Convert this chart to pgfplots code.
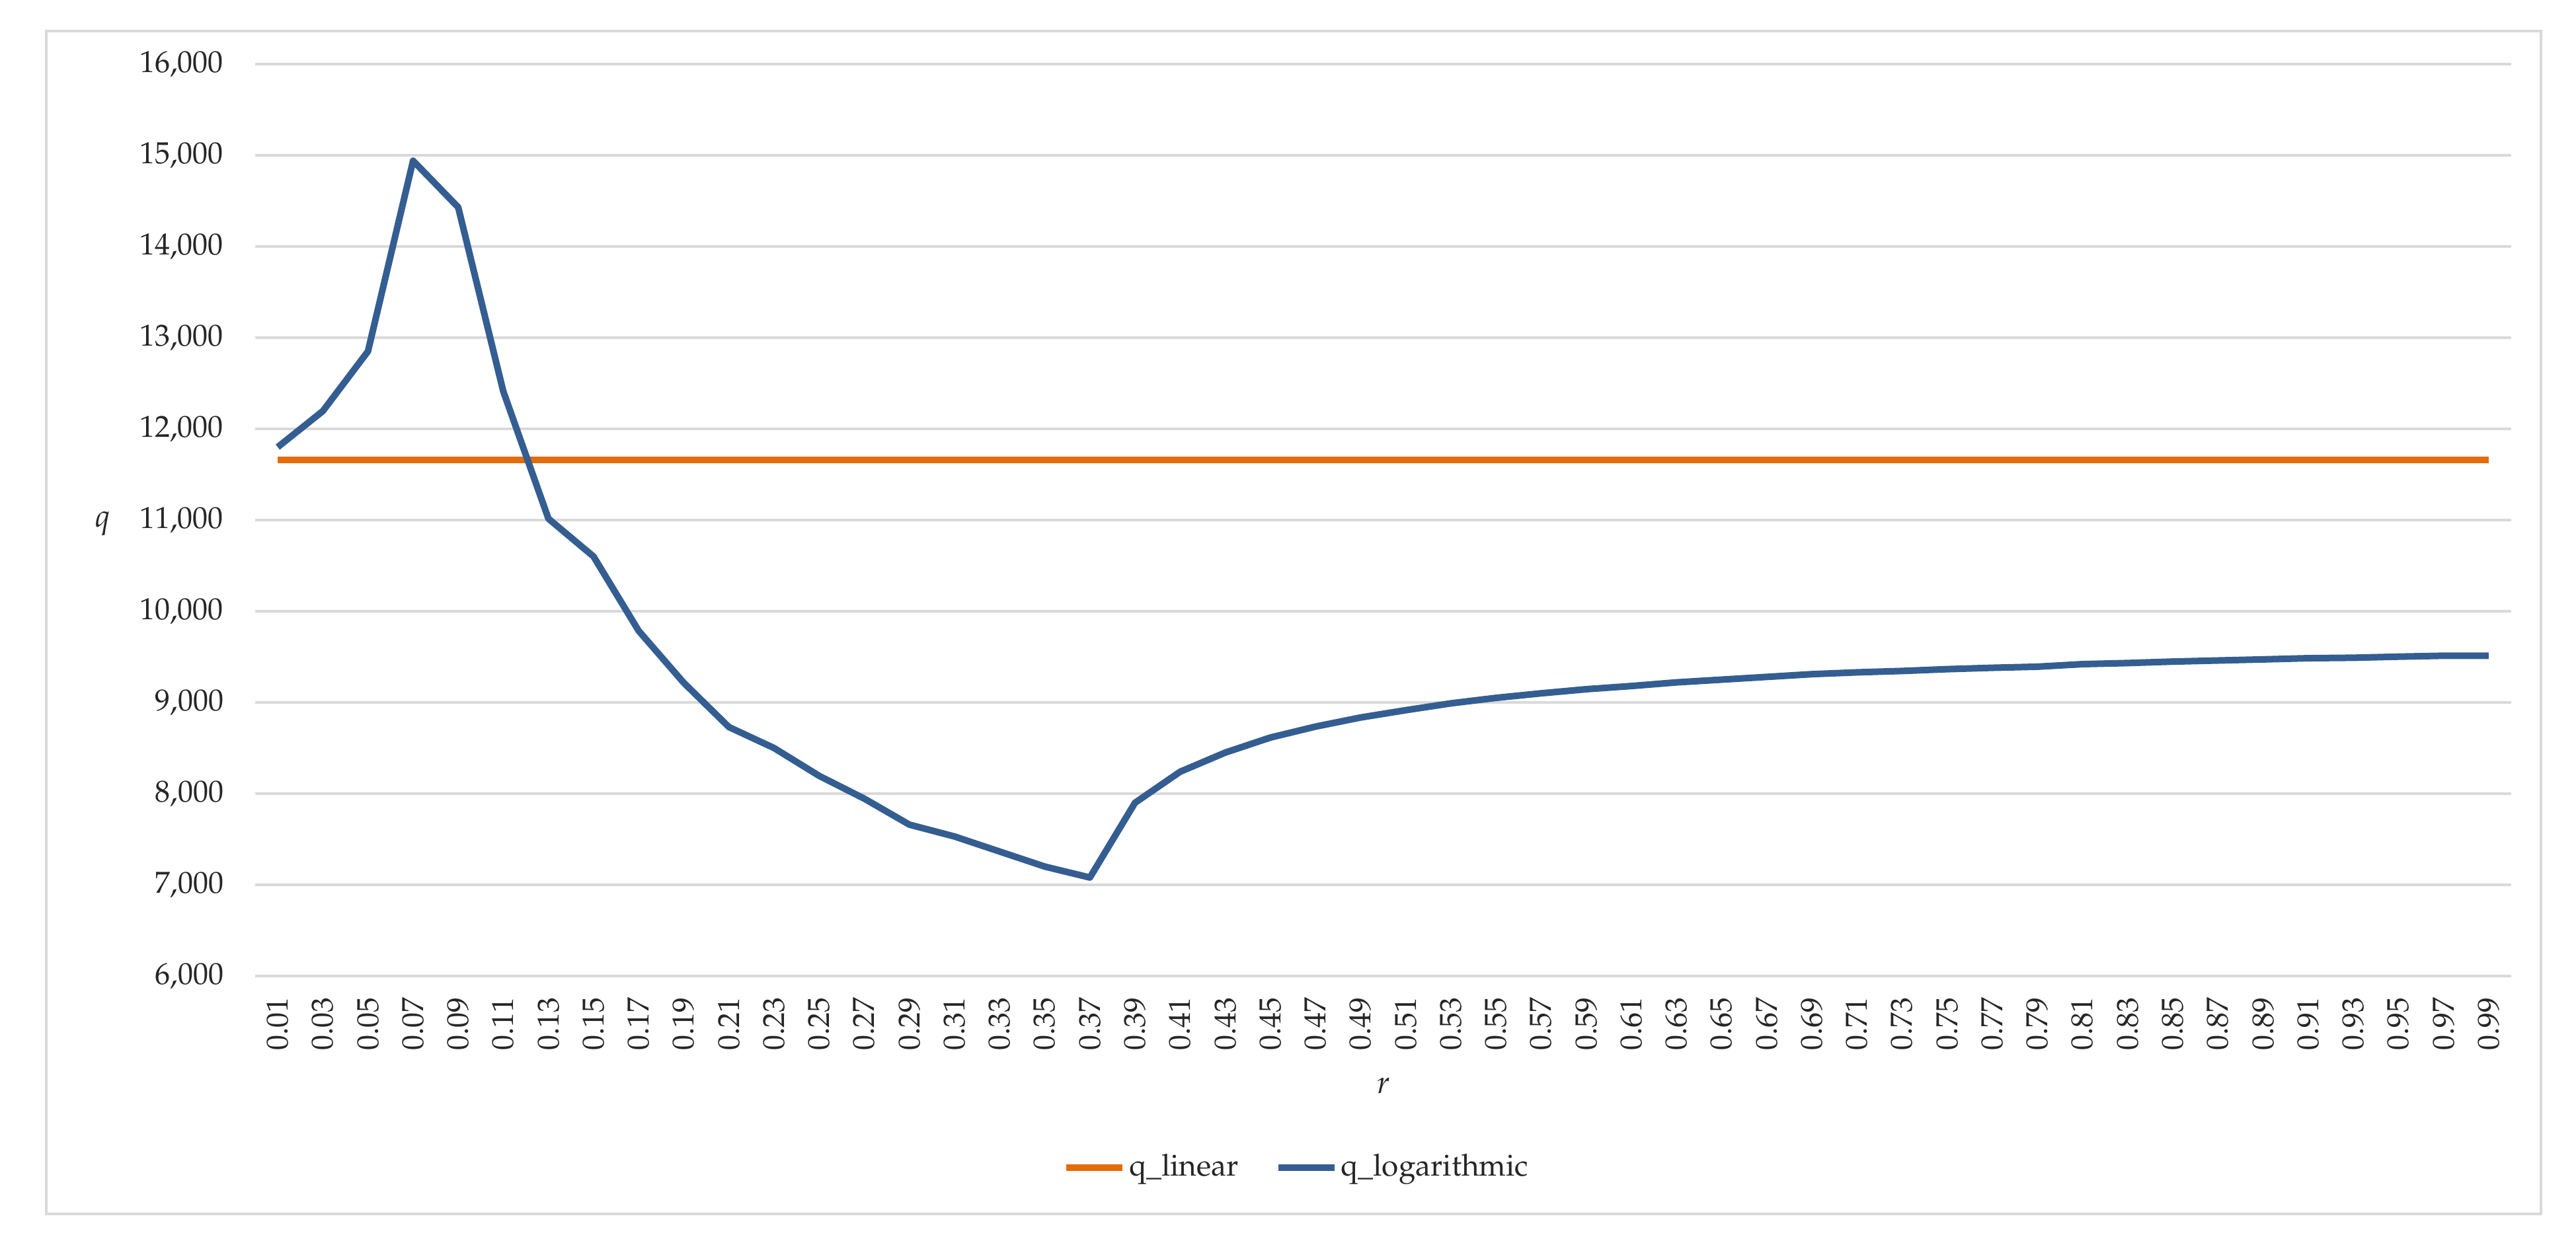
\documentclass[border=0pt]{standalone}
\usepackage[T1]{fontenc}
\usepackage{mathpazo}
\usepackage{pgfplots}
\usepackage{pgfplotstable}
\pgfplotsset{compat=1.18}
\definecolor{qlin}{RGB}{228,108,10}
\definecolor{qlog}{RGB}{52,94,145}
\definecolor{gridgray}{RGB}{217,217,217}
\definecolor{bordergray}{RGB}{217,217,217}
\definecolor{txt}{RGB}{38,38,38}

\pgfplotstableread{
idx r q ql
0 0.01 11800 11660
1 0.03 12195 11660
2 0.05 12850 11660
3 0.07 14940 11660
4 0.09 14430 11660
5 0.11 12410 11660
6 0.13 11015 11660
7 0.15 10600 11660
8 0.17 9785 11660
9 0.19 9215 11660
10 0.21 8730 11660
11 0.23 8500 11660
12 0.25 8195 11660
13 0.27 7945 11660
14 0.29 7660 11660
15 0.31 7530 11660
16 0.33 7365 11660
17 0.35 7200 11660
18 0.37 7080 11660
19 0.39 7900 11660
20 0.41 8240 11660
21 0.43 8450 11660
22 0.45 8615 11660
23 0.47 8735 11660
24 0.49 8835 11660
25 0.51 8915 11660
26 0.53 8990 11660
27 0.55 9050 11660
28 0.57 9100 11660
29 0.59 9145 11660
30 0.61 9180 11660
31 0.63 9220 11660
32 0.65 9250 11660
33 0.67 9280 11660
34 0.69 9310 11660
35 0.71 9330 11660
36 0.73 9345 11660
37 0.75 9365 11660
38 0.77 9380 11660
39 0.79 9392 11660
40 0.81 9420 11660
41 0.83 9432 11660
42 0.85 9448 11660
43 0.87 9460 11660
44 0.89 9472 11660
45 0.91 9485 11660
46 0.93 9490 11660
47 0.95 9502 11660
48 0.97 9512 11660
49 0.99 9512 11660
}\datatable

\begin{document}
\begin{tikzpicture}
\path[fill=white] (0pt,0pt) rectangle (779.4pt,375.4pt);
\draw[bordergray, line width=0.8pt] (14pt,8pt) rectangle (768.8pt,366pt);
\begin{axis}[
  at={(77.2pt,80pt)}, anchor=south west,
  scale only axis, width=682.6pt, height=276pt,
  xmin=-0.5, xmax=49.5, ymin=6000, ymax=16000,
  ytick={6000,7000,...,16000},
  xtick={0,...,49},
  xticklabels={0.01,0.03,0.05,0.07,0.09,0.11,0.13,0.15,0.17,0.19,0.21,0.23,0.25,0.27,0.29,0.31,0.33,0.35,0.37,0.39,0.41,0.43,0.45,0.47,0.49,0.51,0.53,0.55,0.57,0.59,0.61,0.63,0.65,0.67,0.69,0.71,0.73,0.75,0.77,0.79,0.81,0.83,0.85,0.87,0.89,0.91,0.93,0.95,0.97,0.99},
  scaled y ticks=false,
  /pgf/number format/assume math mode=true,
  /pgf/number format/fixed,
  /pgf/number format/1000 sep={,},
  axis line style={draw=none},
  major tick length=0pt,
  tick style={draw=none},
  ymajorgrids, xmajorgrids=false,
  grid style={gridgray, line width=0.9pt},
  every tick label/.append style={font=\fontsize{9.2}{11}\selectfont, text=txt},
  yticklabel shift=9.4pt,
  xticklabel shift=6.2pt,
  yticklabel style={anchor=east, inner sep=0pt},
  xticklabel style={rotate=90, anchor=east, inner sep=0pt},
  xlabel={\textit{r}},
  xlabel style={at={(axis description cs:0.5,0)}, anchor=center, yshift=-33.2pt, font=\fontsize{9.6}{11}\selectfont, text=txt},
  ylabel={\textit{q}},
  ylabel style={at={(axis description cs:0,0.5)}, rotate=-90, anchor=center, xshift=-46pt, yshift=-1pt, font=\fontsize{9.6}{11}\selectfont, text=txt},
  legend columns=2,
  legend style={at={(axis description cs:0.462,-0.21)}, anchor=center, draw=none, fill=none,
    font=\fontsize{9.2}{11}\selectfont, text=txt,
    /tikz/every even column/.append style={column sep=10pt},
    nodes={inner sep=1pt}},
  legend image code/.code={\draw[#1] (0pt,0pt) -- (17pt,0pt);},
]
\addplot[qlin, line width=2pt] table[x=idx, y=ql] {\datatable};
\addlegendentry{q\_linear}
\addplot[qlog, line width=2pt, line join=round] table[x=idx, y=q] {\datatable};
\addlegendentry{q\_logarithmic}
\end{axis}
\end{tikzpicture}
\end{document}
